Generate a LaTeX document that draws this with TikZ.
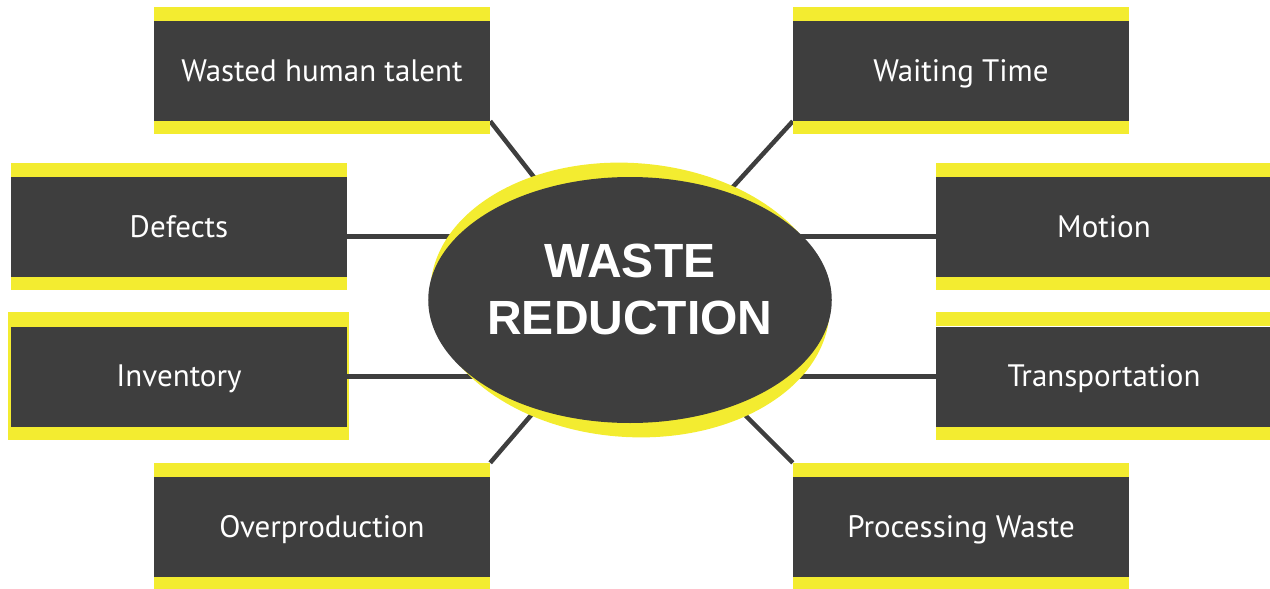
\documentclass[tikz,border=0pt]{standalone}
\usepackage{fontspec}
\setmainfont{PT Sans}
\newfontfamily\hubfont{Liberation Sans}
\usepackage{tikz}
\usetikzlibrary{shapes.geometric}
\usetikzlibrary{backgrounds}
\definecolor{boxgray}{HTML}{3E3E3E}
\definecolor{bandyellow}{HTML}{F3EC30}
\tikzstyle{waste} = [fill=boxgray, text=white, minimum width=336pt, minimum height=100pt, inner sep=0pt, text height=25pt, text depth=5pt, font=\fontsize{31}{36}\selectfont]
\tikzstyle{hub} = [ellipse, fill=boxgray, text=white, minimum width=397pt, minimum height=246pt, inner sep=0pt, align=center, text depth=22pt, font=\hubfont\fontsize{48}{57}\selectfont\bfseries]
\tikzstyle{link} = [draw=boxgray, line width=4.5pt]

\begin{document}
\begin{tikzpicture}[x = 1pt, y = -1pt]
	\useasboundingbox (0, 0) rectangle (1270, 589) ;
	
	\fill[bandyellow, rotate around={-4:(630, 300)}] (630, 300) ellipse [x radius=200pt, y radius=137pt] ;
	\node[hub] (hub) at (630, 300) {WASTE\\REDUCTION} ;
	
	\node[waste] (talent) at (322, 71) {Wasted human talent} ;
	\node[waste] (waiting) at (961, 71) {Waiting Time} ;
	\node[waste] (defects) at (179, 227) {Defects} ;
	\node[waste] (motion) at (1104, 227) {Motion} ;
	\node[waste] (inventory) at (179, 376.5) {Inventory} ;
	\node[waste] (transport) at (1104, 376.5) {Transportation} ;
	\node[waste] (overprod) at (322, 527) {Overproduction} ;
	\node[waste] (processing) at (961, 527) {Processing Waste} ;
	
	\foreach \b in {talent, waiting, defects, motion, inventory, transport, overprod, processing}
	{
		\fill[bandyellow] (\b.north west) rectangle ([yshift=14pt]\b.north east) ;
		\fill[bandyellow] (\b.south west) rectangle ([yshift=-13pt]\b.south east) ;
	}
	
	\begin{scope}[on background layer]
		\fill[bandyellow] ([xshift=-3pt, yshift=14pt]inventory.north west) rectangle ([xshift=2pt, yshift=-13pt]inventory.south east) ;
		
		\draw[link] (talent.south east) -- (hub.center) ;
		\draw[link] (waiting.south west) -- (hub.center) ;
		\draw[link] ([yshift=14pt]overprod.north east) -- (hub.center) ;
		\draw[link] ([yshift=14pt]processing.north west) -- (hub.center) ;
		
		\draw[link] ([yshift=-9.5pt]defects.east) -- ([yshift=-9.5pt]defects.east -| hub.center) ;
		\draw[link] ([yshift=-9.5pt]motion.west) -- ([yshift=-9.5pt]motion.west -| hub.center) ;
		\draw[link] (inventory.east) -- (transport.west) ;
	\end{scope}
\end{tikzpicture}
\end{document}
